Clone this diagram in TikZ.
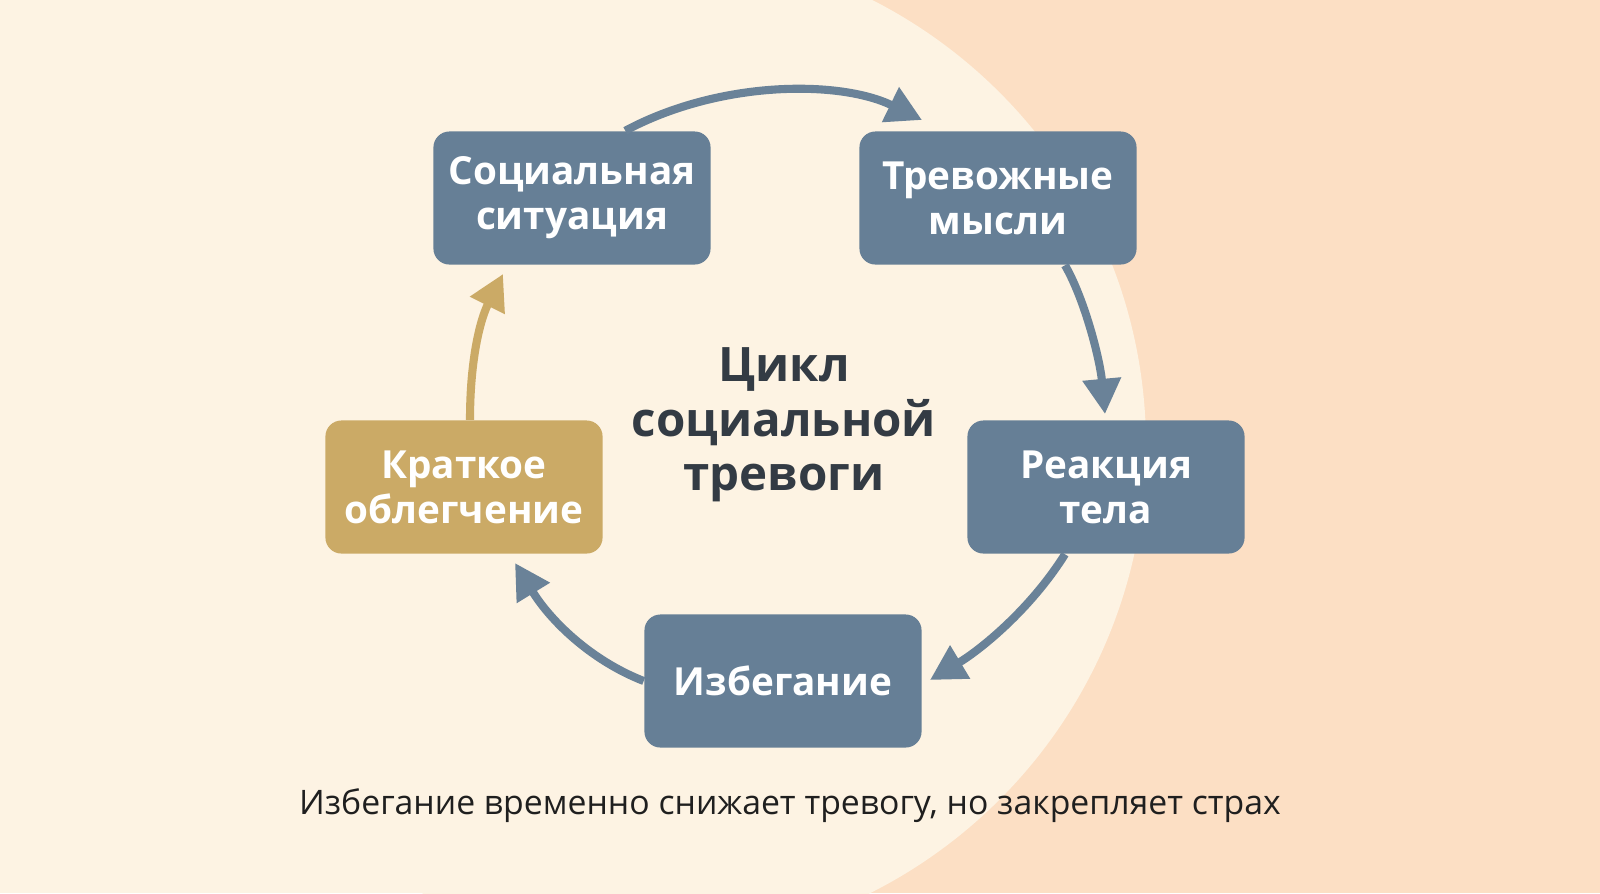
\documentclass[tikz,border=0pt]{standalone}
\usepackage{fontspec}
\setmainfont{Open Sans}
\usetikzlibrary{arrows.meta}
\definecolor{bgL}{HTML}{FDF3E3}
\definecolor{bgR}{HTML}{FCDFC4}
\definecolor{boxB}{HTML}{667F96}
\definecolor{boxG}{HTML}{CBAA66}
\definecolor{arrB}{HTML}{6A8298}
\definecolor{txtD}{HTML}{333B44}
\begin{document}
\begin{tikzpicture}[x=0.01cm,y=-0.01cm,
  box/.style={rounded corners=0.16cm,minimum width=2.77cm,minimum height=1.33cm,text=white,font=\fontsize{11pt}{12.8pt}\selectfont\bfseries,align=center,inner sep=0pt},
  arr/.style={line width=2.3pt,draw=arrB,-{Triangle[length=10pt,width=10.5pt]}}]
\fill[bgR] (0,0) rectangle (1600,893);
\begin{scope}
\clip (0,0) rectangle (1600,893);
\fill[bgL] (646,446) circle (0.01cm*500);
\fill[bgL] (0,0) rectangle (646,893);
\end{scope}
\useasboundingbox (0,0) rectangle (1600,893);
\node[box,fill=boxB] (soc) at (572,198) {Социальная\\ситуация};
\node[box,fill=boxB] (thk) at (998,198) {Тревожные\\мысли};
\node[box,fill=boxB] (bod) at (1106,487) {Реакция\\тела};
\node[box,fill=boxB] (avo) at (783,681) {Избегание};
\node[box,fill=boxG] (rel) at (464,487) {Краткое\\облегчение};
\node[font=\fontsize{13.5pt}{15.5pt}\selectfont\bfseries,text=txtD,align=center] (ttl) at (784,425) {Цикл\\социальной\\тревоги};
\node[font=\fontsize{9.6pt}{11pt}\selectfont,text=black!88] (ft) at (790,806) {Избегание временно снижает тревогу, но закрепляет страх};
\coordinate (t1) at (922,120);
\coordinate (t2) at (1105,414);
\coordinate (t3) at (930,680);
\coordinate (t4) at (515,563);
\coordinate (t5) at (503,274);
\draw[arr] (soc.north east)++(-86,0) .. controls (720,80) and (840,80) .. (t1);
\draw[arr] (thk.south)++(67,0) .. controls (1085,300) and (1100,360) .. (t2);
\draw[arr] (bod.south)++(-41,0) .. controls (1030,610) and (980,650) .. (t3);
\draw[arr] (avo.west) .. controls (590,660) and (550,620) .. (t4);
\draw[arr,draw=boxG] (rel.north)++(6,0) .. controls (470,360) and (480,320) .. (t5);
\end{tikzpicture}
\end{document}
